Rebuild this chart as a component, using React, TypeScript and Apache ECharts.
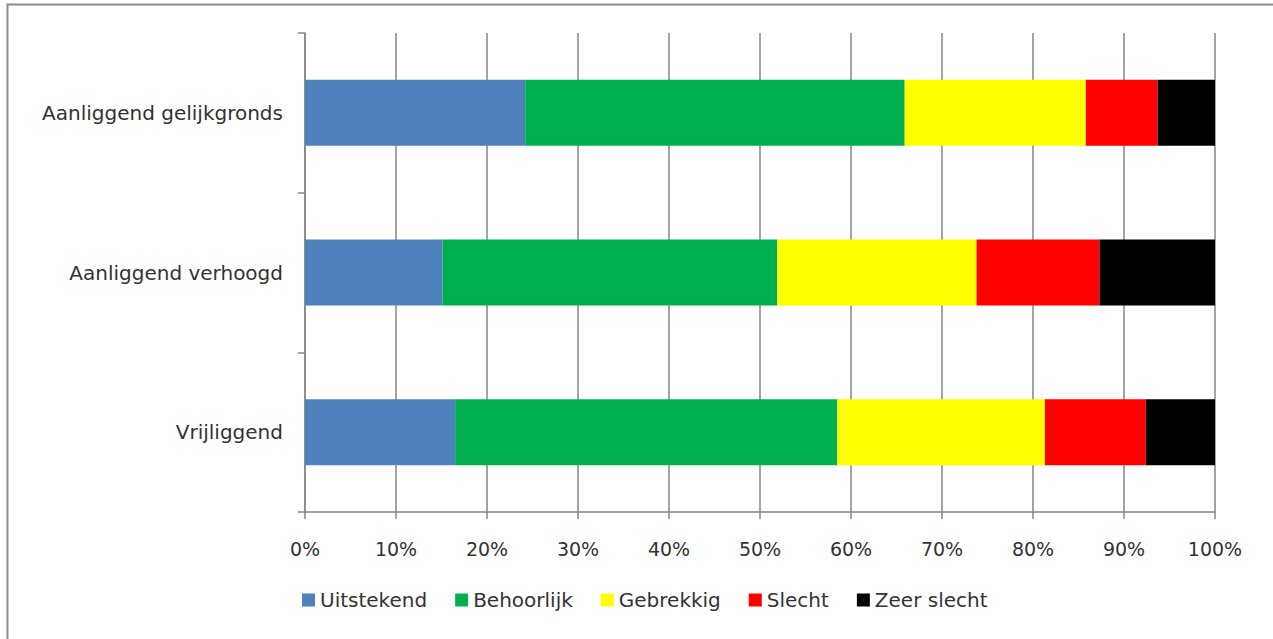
import React, { useEffect, useRef } from "react";
import * as echarts from "echarts";

const categories = ["Vrijliggend", "Aanliggend verhoogd", "Aanliggend gelijkgronds"];
const seriesNames = ["Uitstekend", "Behoorlijk", "Gebrekkig", "Slecht", "Zeer slecht"];
const colors = ["#4F81BD", "#00B050", "#FFFF00", "#FF0000", "#000000"];
// values per series, in order of categories (bottom to top)
const uitstekend = [16.5, 15.1, 24.2];
const behoorlijk = [42.0, 36.8, 41.7];
const gebrekkig = [22.8, 21.9, 19.9];
const slecht = [11.1, 13.5, 7.9];
const zeerSlecht = [7.6, 12.7, 6.3];
const seriesValues = [uitstekend, behoorlijk, gebrekkig, slecht, zeerSlecht];

export default function App() {
  const ref = useRef<HTMLDivElement>(null);
  useEffect(() => {
    if (!ref.current) return;
    const chart = echarts.init(ref.current, null, { renderer: "svg" });
    const font = "'DejaVu Sans', sans-serif";
    const textColor = "#333333";
    chart.setOption({
      animation: false,
      backgroundColor: "#ffffff",
      textStyle: { fontFamily: font },
      graphic: [
        {
          type: "rect",
          shape: { x: 7.5, y: 4.5, width: 1300, height: 700 },
          style: { fill: "none", stroke: "#8a8a8a", lineWidth: 2 },
          silent: true,
        },
      ],
      grid: { left: 305, right: 58, top: 33, bottom: 127, containLabel: false },
      legend: {
        bottom: 24,
        left: 297,
        itemWidth: 13,
        itemHeight: 13,
        itemGap: 28,
        icon: "rect",
        textStyle: { fontSize: 20, color: textColor, fontFamily: font },
        data: seriesNames,
      },
      xAxis: {
        type: "value",
        min: 0,
        max: 100,
        interval: 10,
        axisLabel: { formatter: "{value}%", fontSize: 19, color: textColor, margin: 27, fontFamily: font },
        axisLine: { show: true, lineStyle: { color: "#868686", width: 1.5 } },
        axisTick: { show: true, length: 7, lineStyle: { color: "#868686", width: 1.5 } },
        splitLine: { show: true, lineStyle: { color: "#868686", width: 1.5 } },
      },
      yAxis: {
        type: "category",
        data: categories,
        axisLabel: { fontSize: 20, color: textColor, margin: 22, fontFamily: font },
        axisLine: { show: true, lineStyle: { color: "#868686", width: 1.5 } },
        axisTick: { show: true, length: 7, lineStyle: { color: "#868686", width: 1.5 } },
      },
      series: seriesNames.map((name, i) => ({
        name,
        type: "bar",
        stack: "total",
        barWidth: 66,
        itemStyle: { color: colors[i] },
        data: seriesValues[i],
      })),
    });
    return () => chart.dispose();
  }, []);
  return (
    <div
      ref={ref}
      style={{ position: "absolute", left: 0, top: 0, width: 1273, height: 639 }}
    />
  );
}
